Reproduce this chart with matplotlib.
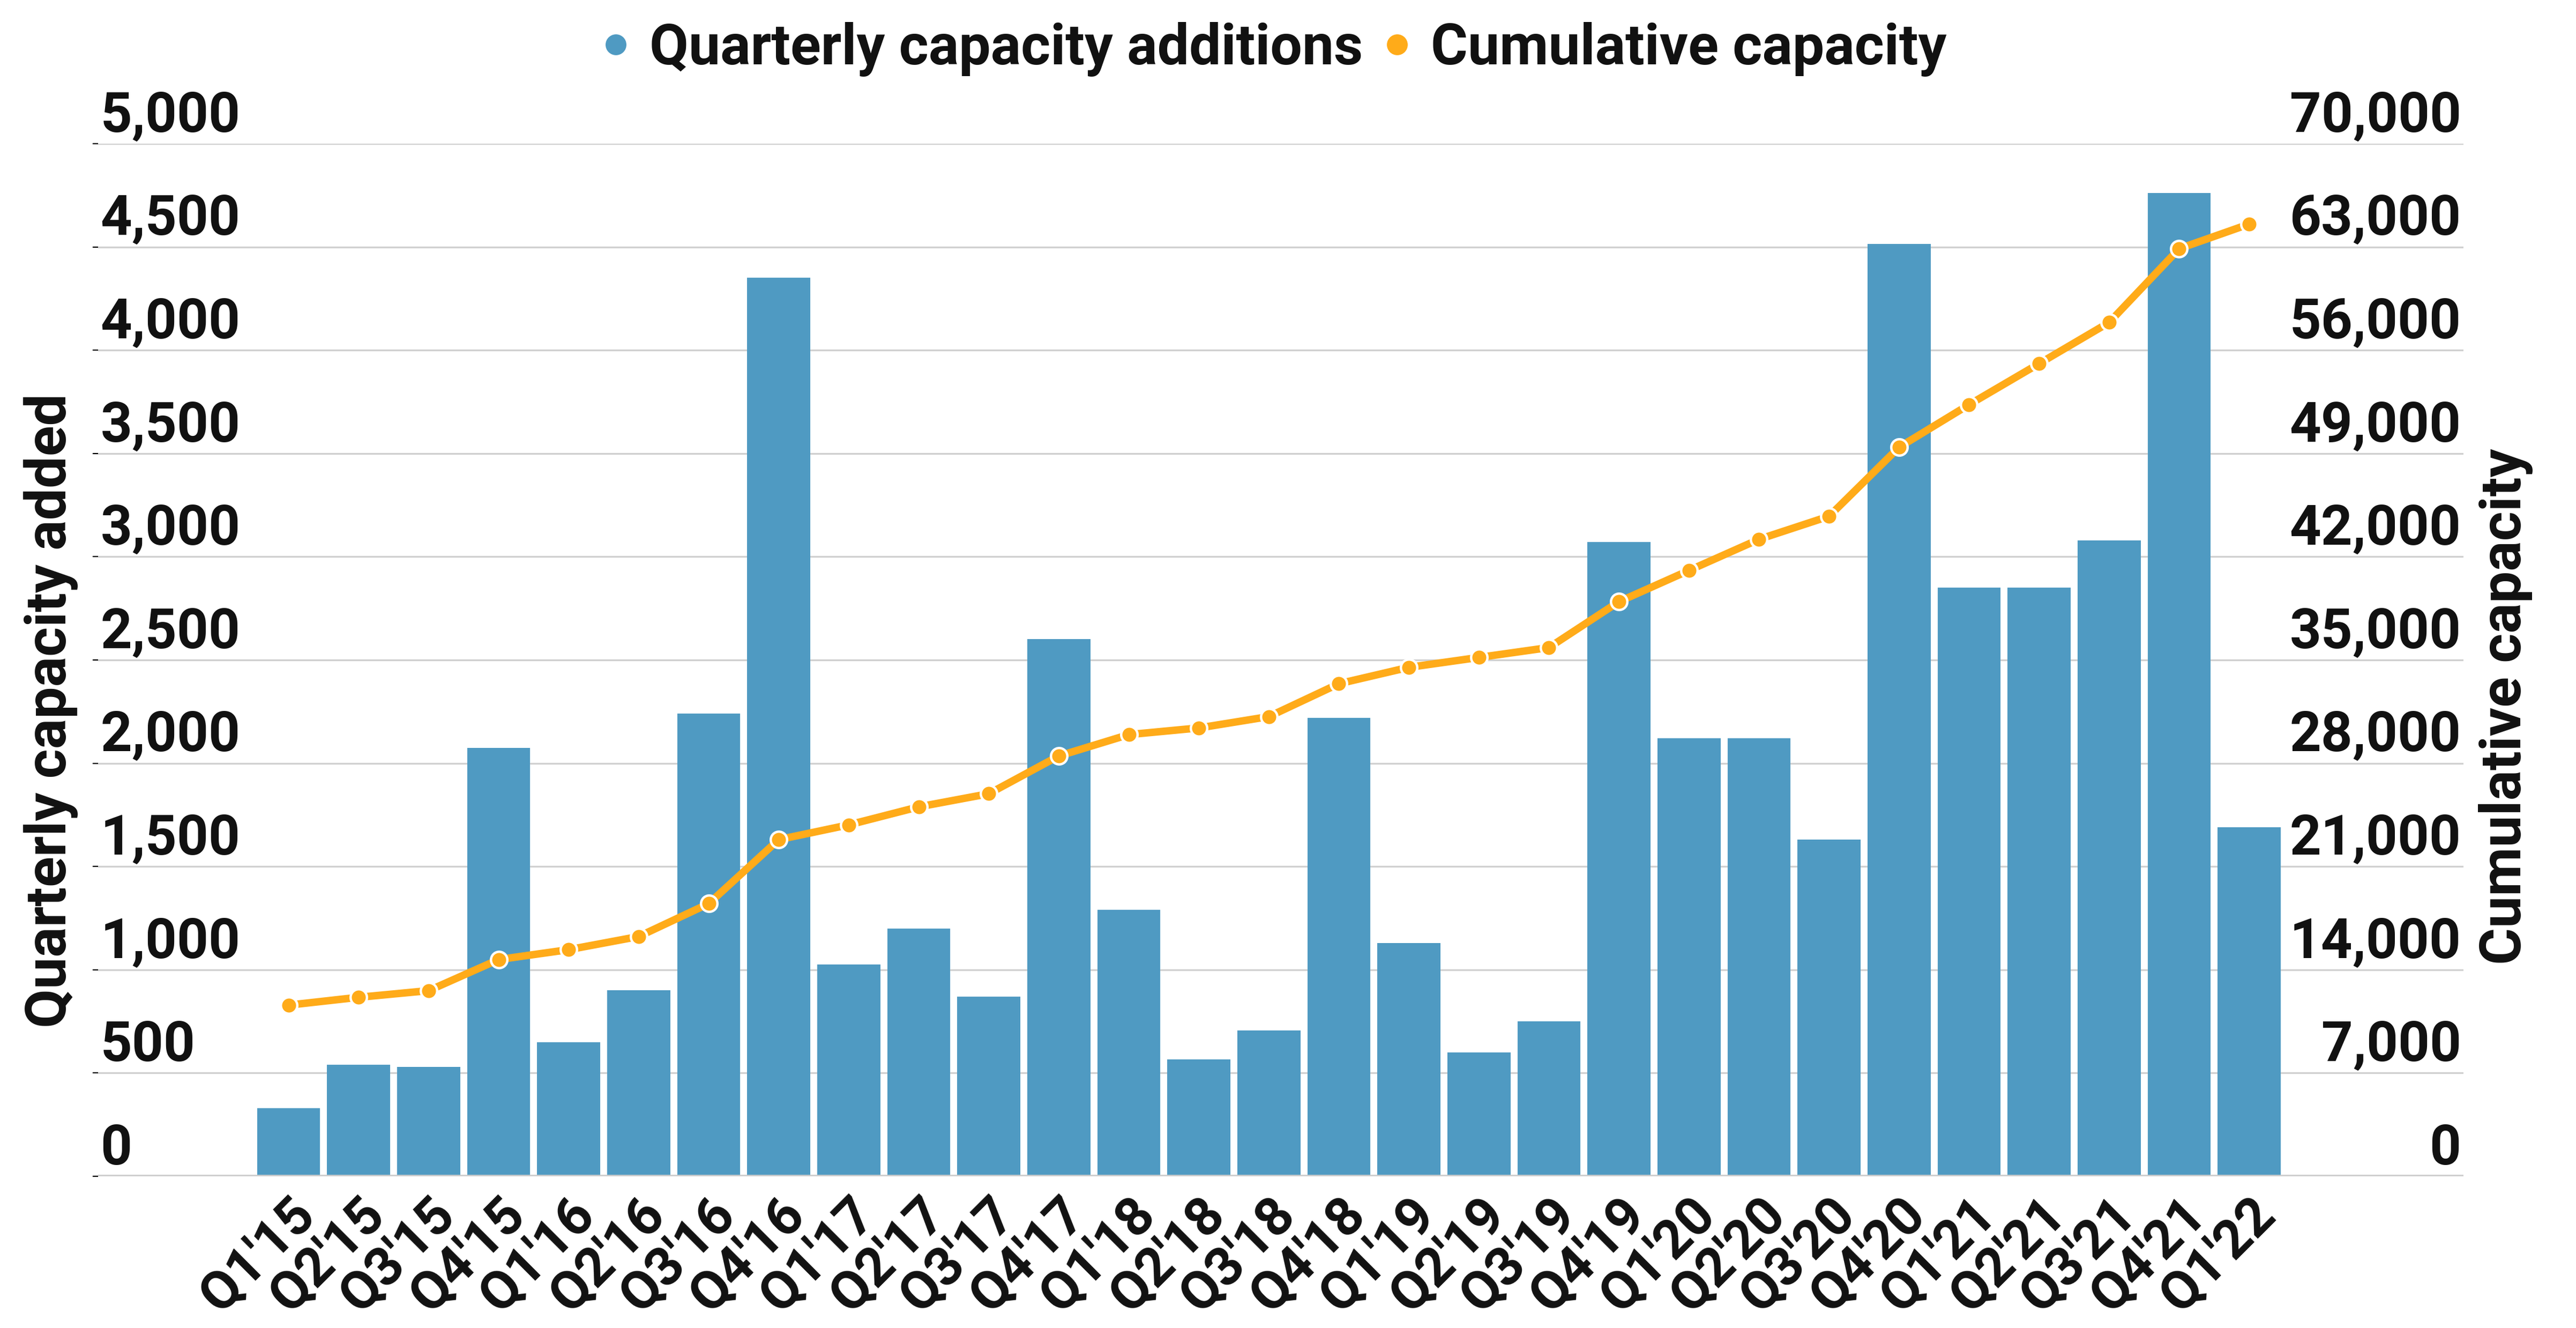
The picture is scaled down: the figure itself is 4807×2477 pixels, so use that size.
import matplotlib.pyplot as plt
import matplotlib.transforms as mtransforms
from matplotlib.lines import Line2D
import numpy as np

# dane
quarters = ["Q1'15", "Q2'15", "Q3'15", "Q4'15", "Q1'16", "Q2'16", "Q3'16", "Q4'16",
            "Q1'17", "Q2'17", "Q3'17", "Q4'17", "Q1'18", "Q2'18", "Q3'18", "Q4'18",
            "Q1'19", "Q2'19", "Q3'19", "Q4'19", "Q1'20", "Q2'20", "Q3'20", "Q4'20",
            "Q1'21", "Q2'21", "Q3'21", "Q4'21", "Q1'22"]
additions = [330, 540, 530, 2075, 650, 900, 2240, 4350,
             1025, 1200, 870, 2600, 1290, 565, 705, 2220,
             1130, 600, 750, 3070, 2120, 2120, 1630, 4515,
             2850, 2850, 3080, 4760, 1690]
cumulative = [11600, 12130, 12580, 14690, 15360, 16250, 18480, 22820,
              23820, 25040, 25930, 28490, 29940, 30390, 31160, 33390,
              34500, 35170, 35840, 38950, 41070, 43180, 44740, 49420,
              52310, 55090, 57880, 62880, 64550]
left_ticks = list(range(0, 5001, 500))
right_ticks = list(range(0, 70001, 7000))

BLUE = '#4f9ac2'
ORANGE = '#ffab19'
TXT = '#111111'
FS_TICK = 37
FS_X = 36
FS_LAB = 38

plt.rcParams['font.family'] = ['Roboto', 'DejaVu Sans']
plt.rcParams['font.weight'] = 'bold'

fig = plt.figure(figsize=(48.07 / 2, 24.77 / 2), dpi=200)
ax = fig.add_axes([0.0381, 0.1143, 0.9182, 0.7775])

x = np.arange(len(quarters))
ax.bar(x, additions, width=0.9, color=BLUE, zorder=2)
ax.set_xlim(-2.72, len(quarters) - 1 + 3.06)
ax.set_ylim(0, 5000)
ax.set_yticks(left_ticks)
ax.yaxis.grid(True, color='#d0d0d0', lw=1.2)
ax.set_axisbelow(True)
ax.tick_params(axis='y', left=False, labelleft=False)
ax.axhline(0, color='#cccccc', lw=2, zorder=3)
for s in ax.spines.values():
    s.set_visible(False)

ax.set_xticks(x, quarters, rotation=45, ha='right', rotation_mode='anchor',
              fontsize=FS_X, fontweight='bold', color=TXT)
ax.tick_params(axis='x', length=0, pad=8)

# etykiety osi Y nad liniami siatki
trans_l = mtransforms.offset_copy(ax.get_yaxis_transform(), fig=fig, y=8, units='points')
for v in left_ticks:
    ax.text(0.001, v, f'{v:,}', transform=trans_l, ha='left', va='baseline',
            fontsize=FS_TICK, fontweight='bold', color=TXT)

ax2 = ax.twinx()
ax2.plot(x, cumulative, color=ORANGE, lw=5, marker='o', ms=11,
         mfc=ORANGE, mec='white', mew=1.6, zorder=3)
ax2.set_ylim(0, 70000)
ax2.set_xlim(ax.get_xlim())
ax2.tick_params(axis='y', right=False, labelright=False)
for s in ax2.spines.values():
    s.set_visible(False)

trans_r = mtransforms.offset_copy(ax2.get_yaxis_transform(), fig=fig, y=8, units='points')
for v in right_ticks:
    ax2.text(0.999, v, f'{v:,}', transform=trans_r, ha='right', va='baseline',
             fontsize=FS_TICK, fontweight='bold', color=TXT)

fig.text(0.0198, 0.465, 'Quarterly capacity added', rotation=90, ha='center', va='center',
         fontsize=FS_LAB, fontweight='bold', color=TXT)
fig.text(0.9727, 0.468, 'Cumulative capacity', rotation=90, ha='center', va='center',
         fontsize=FS_LAB, fontweight='bold', color=TXT)

handles = [Line2D([], [], ls='none', marker='o', ms=13, color=BLUE),
           Line2D([], [], ls='none', marker='o', ms=13, color=ORANGE)]
fig.legend(handles, ['Quarterly capacity additions', 'Cumulative capacity'],
           loc='center', bbox_to_anchor=(0.494, 0.963), ncol=2, frameon=False,
           prop={'size': FS_LAB, 'weight': 'bold'}, handlelength=0.6,
           handletextpad=0.3, columnspacing=0.3, labelcolor=TXT)

fig.savefig('out.png', dpi=200)
